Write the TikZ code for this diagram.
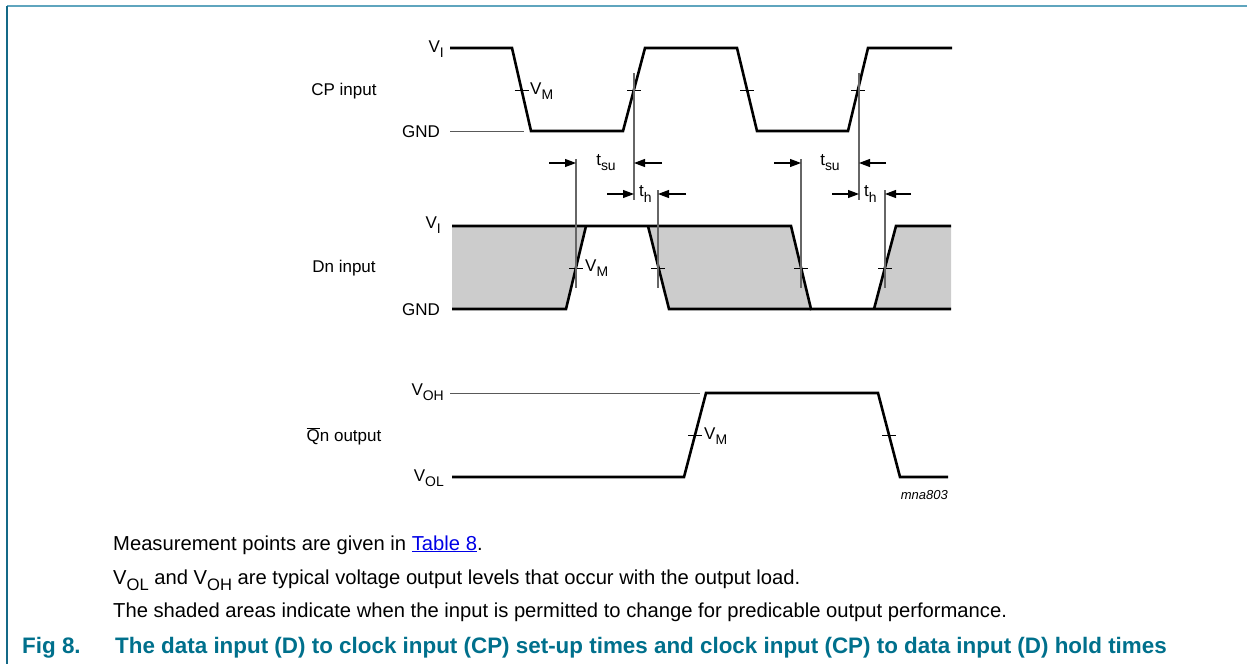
\documentclass[tikz,border=0pt]{standalone}
\usepackage{fontspec}
\setmainfont{Liberation Sans}
\usetikzlibrary{arrows.meta}
\definecolor{figteal}{RGB}{0,112,140}
\definecolor{frametop}{RGB}{95,165,190}
\definecolor{frameleft}{RGB}{20,105,135}
\definecolor{linkblue}{RGB}{0,0,230}
\newcommand{\lowsub}[1]{\raisebox{-0.3em}{\scalebox{0.82}{#1}}}
\tikzset{
  wave/.style={line width=2.6pt, line join=miter},
  refline/.style={line width=1pt, black!65},
  markline/.style={line width=1.1pt, black!60},
  tick/.style={line width=0.9pt},
  dimarrow/.style={line width=1.1pt, -{Triangle[length=11pt,width=8pt]}},
  shade/.style={fill=black!20},
  lbl/.style={font=\fontsize{17}{20}\selectfont, inner sep=0pt},
  txt/.style={font=\fontsize{20.2}{24}\selectfont, inner sep=0pt},
  capt/.style={font=\fontsize{22.4}{26}\selectfont\bfseries, text=figteal, inner sep=0pt}
}
\begin{document}
\begin{tikzpicture}[x=1pt,y=-1pt]
	\useasboundingbox (0,0) rectangle (1247,664);
	\pgfmathsetmacro{\cpHi}{48}
	\pgfmathsetmacro{\cpLo}{131}
	\pgfmathsetmacro{\dnHi}{226}
	\pgfmathsetmacro{\dnLo}{309}
	\pgfmathsetmacro{\qHi}{393}
	\pgfmathsetmacro{\qLo}{477}
	\draw[frametop, line width=2pt] (7,6) -- (1247,6);
	\draw[frameleft, line width=1.5pt] (7,6) -- (7,664);
	% CP input
	\draw[refline] (450,\cpLo) -- (524,\cpLo);
	\draw[wave] (450,\cpHi) -- (512,\cpHi) -- (531,\cpLo) -- (623,\cpLo) -- (645,\cpHi) -- (737,\cpHi)
	  -- (757,\cpLo) -- (848,\cpLo) -- (868,\cpHi) -- (952,\cpHi);
	\foreach \x in {521.5,634,747,858} \draw[tick] (\x-7,90) -- (\x+7,90);
	\node[lbl, anchor=west] (cpvm) at (530,91) {V\lowsub{M}};
	\node[lbl, anchor=base east] (cpvi) at (444,52) {V\lowsub{I}};
	\node[lbl, anchor=base east] (cpgnd) at (440,137) {GND};
	\node[lbl] (cpname) at (344,91) {CP input};
	% Dn input
	\fill[shade] (452,\dnHi) -- (586,\dnHi) -- (566,\dnLo) -- (452,\dnLo) -- cycle;
	\fill[shade] (648,\dnHi) -- (791,\dnHi) -- (811,\dnLo) -- (669,\dnLo) -- cycle;
	\fill[shade] (896,\dnHi) -- (951,\dnHi) -- (951,\dnLo) -- (874,\dnLo) -- cycle;
	\draw[wave] (452,\dnHi) -- (791,\dnHi) -- (811,\dnLo) -- (951,\dnLo);
	\draw[wave] (452,\dnLo) -- (566,\dnLo) -- (586,\dnHi);
	\draw[wave] (648,\dnHi) -- (669,\dnLo) -- (811,\dnLo);
	\draw[wave] (874,\dnLo) -- (896,\dnHi) -- (951,\dnHi);
	\foreach \x in {576,658,801,885} \draw[tick] (\x-7,268) -- (\x+7,268);
	\node[lbl, anchor=west] (dnvm) at (585,268) {V\lowsub{M}};
	\node[lbl, anchor=base east] (dnvi) at (441,228) {V\lowsub{I}};
	\node[lbl, anchor=base east] (dngnd) at (440,315) {GND};
	\node[lbl] (dnname) at (344,268) {Dn input};
	% timing marks
	\coordinate (cp1t) at (634,73);  \coordinate (cp1b) at (634,200);
	\coordinate (cp2t) at (859,73);  \coordinate (cp2b) at (859,200);
	\coordinate (su1t) at (576,159); \coordinate (su1b) at (576,288);
	\coordinate (h1t) at (658,190);  \coordinate (h1b) at (658,288);
	\coordinate (su2t) at (801,159); \coordinate (su2b) at (801,288);
	\coordinate (h2t) at (885,190);  \coordinate (h2b) at (885,288);
	\foreach \m in {cp1,cp2,su1,h1,su2,h2} \draw[markline] (\m t) -- (\m b);
	\coordinate (su1a) at (549,163); \coordinate (su1e) at (576,163);
	\coordinate (su1f) at (662,163); \coordinate (su1g) at (634,163);
	\coordinate (h1a) at (607,194);  \coordinate (h1e) at (634,194);
	\coordinate (h1f) at (686,194);  \coordinate (h1g) at (658,194);
	\coordinate (su2a) at (774,163); \coordinate (su2e) at (801,163);
	\coordinate (su2f) at (886,163); \coordinate (su2g) at (859,163);
	\coordinate (h2a) at (832,194);  \coordinate (h2e) at (859,194);
	\coordinate (h2f) at (911,194);  \coordinate (h2g) at (885,194);
	\foreach \m in {su1,h1,su2,h2} {
		\draw[dimarrow] (\m a) -- (\m e);
		\draw[dimarrow] (\m f) -- (\m g);
	}
	\node[lbl] (tsu1) at (606,163) {t\lowsub{su}};
	\node[lbl, anchor=west] (th1) at (639,194) {t\lowsub{h}};
	\node[lbl] (tsu2) at (830,163) {t\lowsub{su}};
	\node[lbl, anchor=west] (th2) at (864,194) {t\lowsub{h}};
	% Qn output
	\draw[refline] (450,\qHi) -- (700,\qHi);
	\draw[wave] (452,\qLo) -- (684,\qLo) -- (706,\qHi) -- (878,\qHi) -- (900,\qLo) -- (948,\qLo);
	\foreach \x in {695,889} \draw[tick] (\x-7,435) -- (\x+7,435);
	\node[lbl, anchor=west] (qvm) at (704,436) {V\lowsub{M}};
	\node[lbl, anchor=base east] (qvoh) at (444,395) {V\lowsub{OH}};
	\node[lbl, anchor=base east] (qvol) at (444,481) {V\lowsub{OL}};
	\node[lbl] (qname) at (344,436) {$\overline{\mbox{Q}}$n output};
	\node[inner sep=0pt, anchor=base east, font=\fontsize{13}{15}\selectfont\itshape] (code) at (948,499) {mna803};
	% notes and caption
	\node[txt, anchor=base west] (note1) at (113,550) {Measurement points are given in \textcolor{linkblue}{\underline{Table 8}}.};
	\node[txt, anchor=base west] (note2) at (113,584) {V\lowsub{OL} and V\lowsub{OH} are typical voltage output levels that occur with the output load.};
	\node[txt, anchor=base west] (note3) at (113,617) {The shaded areas indicate when the input is permitted to change for predicable output performance.};
	\node[capt, anchor=base west] (fignum) at (22,653) {Fig 8.};
	\node[capt, anchor=base west] (figtxt) at (115,653) {The data input (D) to clock input (CP) set-up times and clock input (CP) to data input (D) hold times};
\end{tikzpicture}
\end{document}
